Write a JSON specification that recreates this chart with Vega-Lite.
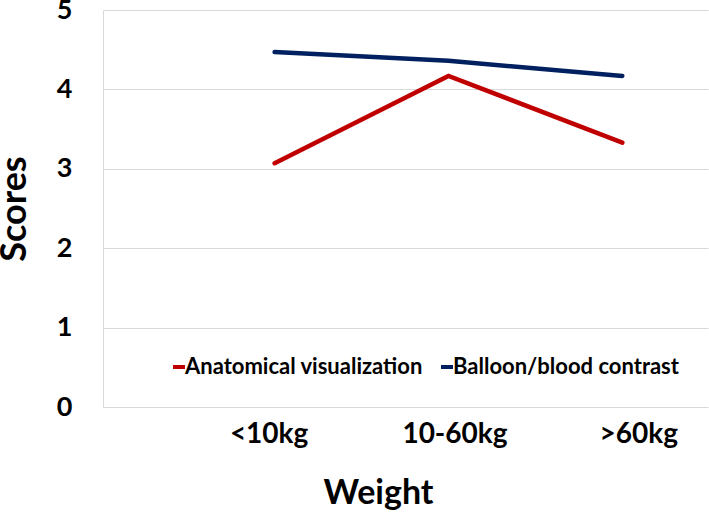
{
  "$schema": "https://vega.github.io/schema/vega-lite/v6.json",
  "width": 605,
  "height": 397,
  "autosize": {"type": "none"},
  "padding": {"left": 103, "top": 10, "right": 1, "bottom": 107},
  "background": "white",
  "config": {
    "view": {"stroke": null},
    "font": "Lato"
  },
  "data": {
    "values": [
      {"weight": "<10kg", "series": "Anatomical visualization", "score": 3.07},
      {"weight": "10-60kg", "series": "Anatomical visualization", "score": 4.17},
      {"weight": ">60kg", "series": "Anatomical visualization", "score": 3.33},
      {"weight": "<10kg", "series": "Balloon/blood contrast", "score": 4.47},
      {"weight": "10-60kg", "series": "Balloon/blood contrast", "score": 4.36},
      {"weight": ">60kg", "series": "Balloon/blood contrast", "score": 4.17}
    ]
  },
  "mark": {"type": "line", "strokeWidth": 4.5, "strokeCap": "round"},
  "encoding": {
    "x": {
      "field": "weight",
      "type": "nominal",
      "sort": ["<10kg", "10-60kg", ">60kg"],
      "scale": {"type": "point", "padding": 0.74, "align": 0.667},
      "axis": {
        "title": "Weight",
        "titleFont": "Lato",
        "titleFontSize": 34,
        "titleFontWeight": "bold",
        "titleColor": "black",
        "titlePadding": 28,
        "titleX": 275,
        "titleAlign": "center",
        "labelFont": "Lato",
        "labelFontSize": 28,
        "labelFontWeight": "bold",
        "labelColor": "black",
        "labelAngle": 0,
        "labelPadding": 13,
        "labelOffset": {
          "condition": [
            {"test": "datum.value === '<10kg'", "value": -6},
            {"test": "datum.value === '>60kg'", "value": 16}
          ],
          "value": 6
        },
        "ticks": false,
        "domain": false,
        "grid": false
      }
    },
    "y": {
      "field": "score",
      "type": "quantitative",
      "scale": {"domain": [0, 5], "nice": false, "zero": true},
      "axis": {
        "title": "Scores",
        "titleFont": "Lato",
        "titleFontSize": 36,
        "titleFontWeight": "bold",
        "titleColor": "black",
        "titlePadding": 23,
        "labelFont": "Lato",
        "labelFontSize": 27,
        "labelFontWeight": "bold",
        "labelColor": "black",
        "labelPadding": 31,
        "values": [0, 1, 2, 3, 4, 5],
        "ticks": false,
        "domain": true,
        "domainColor": "#d9d9d9",
        "grid": true,
        "gridColor": "#d9d9d9",
        "gridWidth": 1
      }
    },
    "color": {
      "field": "series",
      "type": "nominal",
      "scale": {
        "domain": ["Anatomical visualization", "Balloon/blood contrast"],
        "range": ["#C00000", "#002060"]
      },
      "legend": {
        "title": null,
        "orient": "none",
        "legendX": 65,
        "legendY": 346,
        "direction": "horizontal",
        "symbolType": "stroke",
        "symbolStrokeWidth": 4,
        "symbolSize": 144,
        "labelFont": "Lato",
        "labelFontSize": 22,
        "labelFontWeight": "bold",
        "labelColor": "black",
        "labelOffset": -5,
        "columnPadding": 10,
        "labelLimit": 400
      }
    }
  }
}
